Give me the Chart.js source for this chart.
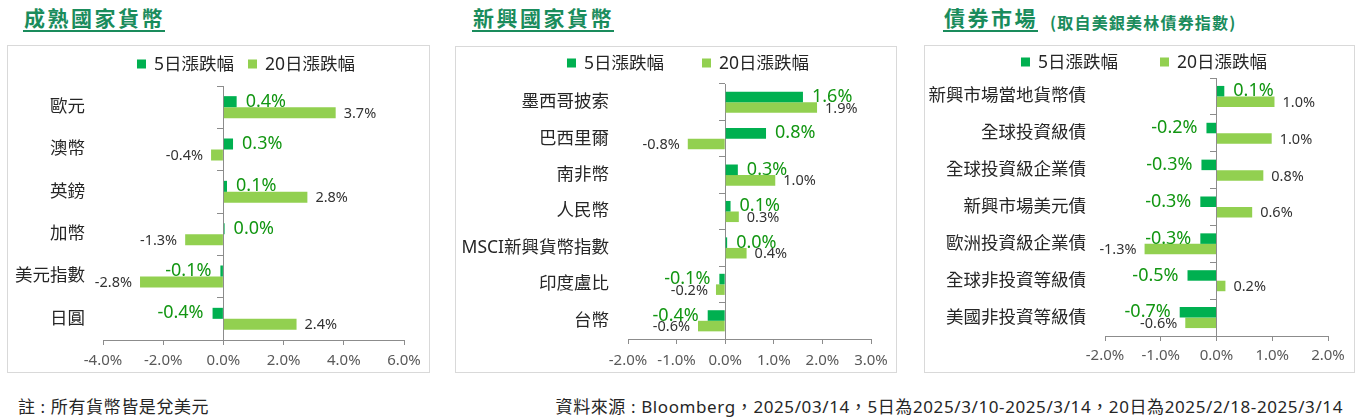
<!DOCTYPE html>
<html><head><meta charset="utf-8">
<script src="https://cdn.jsdelivr.net/npm/chart.js@4.4.1/dist/chart.umd.min.js"></script>
<style>
body{margin:0;width:1359px;height:420px;background:#fff;position:relative;overflow:hidden;font-family:"Noto Sans","Noto Sans CJK TC",sans-serif;color:#262626}
.ttl{position:absolute;top:4px;font:bold 21px/26px "Noto Sans CJK TC",sans-serif;letter-spacing:2.5px;color:#1a8c5c;border-bottom:2px solid #1a8c5c;padding:0 0 0 1px}
.sub{position:absolute;top:12px;font:bold 16px/20px "Noto Sans CJK TC",sans-serif;color:#1a8c5c;letter-spacing:1.2px}
.box{position:absolute;border:1px solid #d9d9d9;box-sizing:border-box}
.cv{position:absolute}
.note{position:absolute;top:396px;font-size:17px;line-height:22px;letter-spacing:0.6px;color:#262626;white-space:nowrap}
</style></head><body>
<div class="ttl" style="left:23px">成熟國家貨幣</div>
<div class="ttl" style="left:472px">新興國家貨幣</div>
<div class="ttl" style="left:943px">債券市場</div>
<div class="sub" style="left:1050px">(取自美銀美林債券指數)</div>

<div class="box" style="left:7px;top:45px;width:423px;height:328px"></div>
<div class="cv" style="left:7px;top:45px;width:423px;height:328px"><canvas id="c1"></canvas></div>
<div class="box" style="left:455px;top:46px;width:442px;height:327px"></div>
<div class="cv" style="left:455px;top:46px;width:442px;height:327px"><canvas id="c2"></canvas></div>
<div class="box" style="left:924px;top:45px;width:431px;height:328px"></div>
<div class="cv" style="left:924px;top:45px;width:431px;height:328px"><canvas id="c3"></canvas></div>

<div class="note" style="left:18px">註 : 所有貨幣皆是兌美元</div>
<div class="note" style="right:16px">資料來源 : Bloomberg，2025/03/14，5日為2025/3/10-2025/3/14，20日為2025/2/18-2025/3/14</div>

<script>
const FONT = '"Noto Sans","Noto Sans CJK TC",sans-serif';
const seriesNames = ["5日漲跌幅", "20日漲跌幅"];
const colors = ["#00B050", "#92D050"];

// 成熟國家貨幣
const devCats = ["歐元", "澳幣", "英鎊", "加幣", "美元指數", "日圓"];
const dev5 = [0.44, 0.32, 0.12, 0.04, -0.1, -0.36];
const dev20 = [3.73, -0.41, 2.79, -1.27, -2.77, 2.43];
const devTicks = [-4, 6, 2];

// 新興國家貨幣
const emCats = ["墨西哥披索", "巴西里爾", "南非幣", "人民幣", "MSCI新興貨幣指數", "印度盧比", "台幣"];
const em5 = [1.6, 0.84, 0.26, 0.11, 0.04, -0.12, -0.36];
const em20 = [1.89, -0.77, 1.03, 0.28, 0.44, -0.19, -0.56];
const emTicks = [-2, 3, 1];

// 債券市場
const bondCats = ["新興市場當地貨幣債", "全球投資級債", "全球投資級企業債", "新興市場美元債", "歐洲投資級企業債", "全球非投資等級債", "美國非投資等級債"];
const bond5 = [0.14, -0.18, -0.27, -0.29, -0.29, -0.52, -0.66];
const bond20 = [1.04, 0.99, 0.84, 0.64, -1.29, 0.16, -0.56];
const bondTicks = [-2, 2, 1];

// value labels at bar ends: 5日 big green, 20日 small grey
const valueLabels = {
  id: "valueLabels",
  afterDatasetsDraw(chart) {
    const ctx = chart.ctx;
    const st = [{font: "18px " + FONT, color: "#129612", off: 9, dy: 0},
                {font: "14.5px " + FONT, color: "#333", off: 8, dy: 1}];
    chart.data.datasets.forEach((ds, di) => {
      const meta = chart.getDatasetMeta(di);
      ctx.save();
      ctx.font = st[di].font; ctx.fillStyle = st[di].color; ctx.textBaseline = "middle";
      meta.data.forEach((bar, i) => {
        const v = ds.data[i], neg = v < 0;
        ctx.textAlign = neg ? "right" : "left";
        ctx.fillText(v.toFixed(1) + "%", bar.x + (neg ? -st[di].off : st[di].off), bar.y + st[di].dy);
      });
      ctx.restore();
    });
  }
};

// legend row drawn in the top band of each panel
const legendRow = {
  id: "legendRow",
  afterDraw(chart, args, o) {
    const ctx = chart.ctx;
    ctx.save();
    ctx.font = "17.5px " + FONT;
    const items = chart.data.datasets.map(d => ({t: d.label, c: d.backgroundColor, w: ctx.measureText(d.label).width}));
    const total = items.reduce((s, it) => s + 9 + 8 + it.w, 0) + o.gap * (items.length - 1);
    let x = o.cx - total / 2;
    ctx.textBaseline = "middle"; ctx.textAlign = "left";
    items.forEach(it => {
      ctx.fillStyle = it.c; ctx.fillRect(x, o.cy - 4.5, 9, 9);
      x += 17;
      ctx.fillStyle = "#262626"; ctx.fillText(it.t, x, o.cy + 1);
      x += it.w + o.gap;
    });
    ctx.restore();
  }
};

function makeChart(id, cats, d5, d20, rng, p) {
  return new Chart(document.getElementById(id), {
    type: "bar",
    data: {labels: cats, datasets: [
      {label: seriesNames[0], data: d5, backgroundColor: colors[0], categoryPercentage: p.cp, barPercentage: 1},
      {label: seriesNames[1], data: d20, backgroundColor: colors[1], categoryPercentage: p.cp, barPercentage: 1}
    ]},
    options: {
      indexAxis: "y", responsive: true, maintainAspectRatio: false, animation: false,
      layout: {padding: {left: 0, right: p.right, top: p.top, bottom: 0}},
      plugins: {legend: {display: false}, tooltip: {enabled: false},
        legendRow: {cx: p.lx, cy: p.ly, gap: p.gap}},
      scales: {
        x: {min: rng[0], max: rng[1],
          ticks: {stepSize: rng[2], callback: v => v.toFixed(1) + "%", font: {size: 15, family: FONT}, color: "#595959", padding: p.tp},
          grid: {drawOnChartArea: false, tickLength: 5, color: "#8c8c8c"},
          border: {color: "#8c8c8c"},
          afterFit: s => { s.height = p.bottom; }},
        y: {grid: {display: false, drawTicks: false}, border: {display: false},
          ticks: {font: {size: 17.5, family: FONT}, color: "#262626", padding: p.lp},
          afterFit: s => { s.width = p.yw; }},
        y2: {type: "category", display: true, position: {x: 0}, offset: true,
          grid: {offset: true, drawOnChartArea: false, tickLength: 6, color: "#8c8c8c"},
          border: {color: "#8c8c8c"}, ticks: {display: false}}
      }
    },
    plugins: [valueLabels, legendRow]
  });
}

makeChart("c1", devCats, dev5, dev20, devTicks, {cp: 0.52, right: 26, top: 41, bottom: 33, yw: 96, lp: 18, tp: 7, lx: 239, ly: 19, gap: 14});
makeChart("c2", emCats, em5, em20, emTicks, {cp: 0.58, right: 26, top: 38, bottom: 34, yw: 173, lp: 19, tp: 8, lx: 233, ly: 17, gap: 38});
makeChart("c3", bondCats, bond5, bond20, bondTicks, {cp: 0.57, right: 27, top: 33, bottom: 37, yw: 181, lp: 19, tp: 6, lx: 220, ly: 17, gap: 42});
</script>
</body></html>
